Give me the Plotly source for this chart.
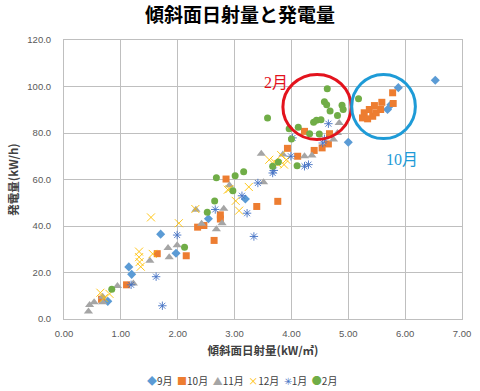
import plotly.graph_objects as go

# ---- data ----
sep_x = [0.77, 1.14, 1.19, 1.70, 1.97, 2.54, 3.19, 5.00, 5.69, 5.75, 5.88, 6.53]
sep_y = [7.6, 22.4, 19.2, 36.5, 28.3, 43.1, 51.6, 76.0, 90.1, 92.2, 99.5, 102.7]

oct_x = [0.66, 1.10, 1.64, 2.15, 2.35, 2.46, 2.64, 2.75, 2.75, 2.85, 3.39, 3.76, 3.93, 4.11,
         4.23, 4.40, 4.54, 4.65, 4.67, 5.25, 5.28, 5.34, 5.37, 5.43, 5.46, 5.49, 5.57, 5.59,
         5.78, 5.79]
oct_y = [8.5, 14.7, 28.1, 27.2, 39.5, 40.2, 33.8, 44.8, 43.0, 60.2, 48.4, 50.6, 73.4, 70.0,
         80.7, 72.5, 73.6, 75.3, 79.7, 86.5, 88.7, 86.1, 90.1, 87.2, 91.8, 88.7, 90.1, 93.2,
         97.3, 92.7]

nov_x = [0.43, 0.45, 0.53, 0.68, 0.68, 0.94, 1.22, 1.51, 1.83, 1.85, 1.99, 2.32, 2.42, 2.68,
         2.78, 2.81, 2.91, 3.47, 3.51, 3.85, 4.23, 4.36, 4.74, 4.81, 4.84]
nov_y = [3.2, 6.0, 7.2, 7.2, 9.6, 14.2, 15.3, 25.1, 30.5, 26.6, 31.7, 47.0, 41.0, 38.6,
         41.2, 47.4, 57.5, 71.1, 58.8, 70.7, 70.0, 70.3, 77.2, 80.0, 84.3]

dec_x = [0.64, 0.70, 0.80, 1.32, 1.32, 1.33, 1.35, 1.53, 1.56, 2.02, 2.31, 2.88, 2.91, 3.02,
         3.08, 3.25, 3.61, 3.70, 3.76, 3.82, 3.87, 3.91]
dec_y = [11.3, 9.0, 10.8, 29.0, 26.6, 24.5, 22.5, 43.7, 28.0, 41.2, 47.3, 55.6, 55.9, 50.8,
         46.6, 56.8, 68.5, 67.5, 66.7, 70.5, 66.4, 68.5]

jan_x = [1.18, 1.62, 1.73, 1.99, 2.66, 3.13, 3.22, 3.34, 3.41, 3.67, 3.69, 3.99, 4.02, 4.23,
         4.30, 4.55, 4.58, 4.65]
jan_y = [14.7, 18.2, 5.7, 36.1, 47.1, 53.0, 45.5, 35.5, 58.5, 62.8, 63.9, 70.0, 77.9, 65.7,
         66.4, 75.7, 77.5, 84.0]

feb_x = [0.84, 2.12, 2.52, 2.65, 2.68, 2.97, 3.01, 3.16, 3.58, 3.67, 3.77, 3.96, 4.00, 4.10,
         4.12, 4.32, 4.39, 4.44, 4.49, 4.52, 4.58, 4.62, 4.63, 4.68, 4.81, 4.89, 4.91, 5.18]
feb_y = [12.8, 30.9, 45.9, 50.8, 60.8, 55.2, 61.6, 63.3, 86.5, 65.7, 67.5, 81.8, 77.4, 65.9,
         82.5, 79.7, 84.6, 85.5, 79.6, 85.7, 93.4, 92.2, 99.0, 89.5, 87.5, 91.9, 90.1, 94.7]

series_names = ["9月", "10月", "11月", "12月", "1月", "2月"]
series_colors = ["#5B9BD5", "#ED7D31", "#A5A5A5", "#FFC000", "#4472C4", "#70AD47"]
series_symbols = ["diamond", "square", "triangle-up", "x-thin-open", "asterisk-open", "circle"]
series_glyphs = ["◆", "■", "▲", "×", "✳", "●"]
series_sizes = [7, 7, 8, 8, 7, 7]
series_data = [(sep_x, sep_y), (oct_x, oct_y), (nov_x, nov_y),
               (dec_x, dec_y), (jan_x, jan_y), (feb_x, feb_y)]

x_ticks = [0, 1, 2, 3, 4, 5, 6, 7]
y_ticks = [0, 20, 40, 60, 80, 100, 120]

title_text = "傾斜面日射量と発電量"
x_title = "傾斜面日射量(kW/㎡)"
y_title = "発電量(kW/h)"

CJK = "Noto Sans CJK JP"

fig = go.Figure()
for name, color, sym, size, (xs, ys) in zip(series_names, series_colors, series_symbols,
                                             series_sizes, series_data):
    marker = dict(symbol=sym, size=size, color=color)
    if sym.endswith("-open"):
        marker["line"] = dict(color=color, width=0.9)
    else:
        marker["line"] = dict(width=0)
    fig.add_trace(go.Scatter(x=xs, y=ys, mode="markers", name=name, marker=marker,
                             showlegend=False))

# legend drawn as a compact line of text
legend_html = "  ".join(
    f'<span style="color:{c}">{g}</span>{n}'
    for n, c, g in zip(series_names, series_colors, series_glyphs)
)

fig.update_layout(
    width=480, height=391,
    margin=dict(l=64, r=18, t=40, b=72, autoexpand=False),
    paper_bgcolor="white", plot_bgcolor="white",
    title=dict(text=f"<b>{title_text}</b>", x=0.5, xanchor="center", y=0.96, yanchor="middle",
               font=dict(family=CJK, size=19, color="#000000")),
    xaxis=dict(range=[0, 7], tickvals=x_ticks, tickformat=".2f", automargin=False,
               showgrid=True, gridcolor="#BFBFBF", gridwidth=1,
               showline=True, linecolor="#BFBFBF", mirror=True, zeroline=False,
               ticks="", ticklabelstandoff=6,
               tickfont=dict(family="Liberation Sans", size=9.5, color="#595959"),
               title=dict(text=f"<b>{x_title}</b>", standoff=8,
                          font=dict(family=CJK, size=11.5, color="#404040"))),
    yaxis=dict(range=[0, 120], tickvals=y_ticks, tickformat=".1f", automargin=False,
               showgrid=True, gridcolor="#BFBFBF", gridwidth=1,
               showline=True, linecolor="#BFBFBF", mirror=True, zeroline=False,
               ticks="", ticklabelstandoff=10,
               tickfont=dict(family="Liberation Sans", size=9.5, color="#595959"),
               title=dict(text=f"<b>{y_title}</b>", standoff=6,
                          font=dict(family=CJK, size=11.5, color="#404040"))),
    shapes=[
        dict(type="circle", xref="x", yref="y", x0=3.85, x1=5.05, y0=77.2, y1=105.2,
             line=dict(color="#E3131D", width=3)),
        dict(type="circle", xref="x", yref="y", x0=5.06, x1=6.18, y0=77.6, y1=105.2,
             line=dict(color="#1E9BD7", width=3)),
    ],
    annotations=[
        dict(text="2月", x=3.72, y=101.7, xref="x", yref="y", showarrow=False,
             font=dict(family="Liberation Serif, " + CJK, size=16, color="#E3131D")),
        dict(text="10月", x=5.95, y=68.5, xref="x", yref="y", showarrow=False,
             font=dict(family="Liberation Serif, " + CJK, size=16, color="#1E9BD7")),
        dict(text=legend_html, x=0.446, y=-0.219, xref="paper", yref="paper",
             xanchor="center", yanchor="middle", showarrow=False,
             font=dict(family=CJK, size=10, color="#404040")),
    ],
)

fig.write_html("out.html", config={"displayModeBar": False},
               post_script="document.body.style.margin='0';document.body.style.overflow='hidden';")
